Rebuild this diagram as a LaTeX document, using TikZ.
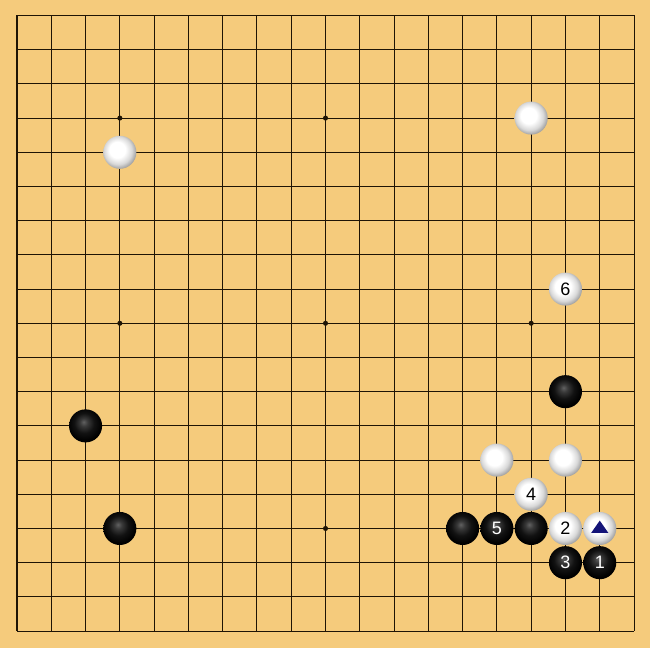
\documentclass[tikz,border=0pt]{standalone}
\usepackage{fontspec}
\setsansfont{Liberation Sans}
\usetikzlibrary{shapes.geometric}
\definecolor{BoardWood}{RGB}{245,203,124}
\definecolor{GridLine}{RGB}{30,20,5}
\definecolor{MarkBlue}{RGB}{20,20,120}
\pgfdeclareradialshading{whiteball}{\pgfpoint{-5bp}{5bp}}{color(0bp)=(white); color(12bp)=(white); color(21bp)=(black!15); color(27bp)=(black!36); color(32bp)=(black!45); color(50bp)=(black!45)}
\pgfdeclareradialshading{blackball}{\pgfpoint{-3bp}{6bp}}{color(0bp)=(black!62); color(6bp)=(black!78); color(15bp)=(black!93); color(25bp)=(black); color(50bp)=(black)}

\begin{document}
\begin{tikzpicture}[
		x=25.71pt, y=-25.65pt,
		gridline/.style={GridLine, line width=0.8pt},
		hoshi/.style={circle, fill=GridLine, inner sep=0pt, minimum size=3.8pt},
		stone/.style={circle, inner sep=0pt, minimum size=24.8pt,
			font=\sffamily\fontsize{13.5}{14}\selectfont},
		blackstone/.style={stone, shading=blackball, text=white},
		whitestone/.style={stone, shading=whiteball, text=black},
		trimark/.style={isosceles triangle, isosceles triangle apex angle=70,
			shape border rotate=90, fill=MarkBlue, inner sep=0pt, minimum width=13pt, minimum height=7pt}
		]
		
		\fill[BoardWood] (0.504,0.547) rectangle (19.466,19.494);
		\useasboundingbox (0.504,0.547) rectangle (19.466,19.494);
		
		% board
		\foreach \i in {1,...,19} {
			\draw[gridline] (\i,1) -- (\i,19);
			\draw[gridline] (1,\i) -- (19,\i);
		}
		\foreach \cx in {4,10,16}
			\foreach \cy in {4,10,16}
				\node[hoshi] (h\cx-\cy) at (\cx,\cy) {};
		
		% stones already on the board
		\node[whitestone] (w1) at (4,5) {};
		\node[whitestone] (w2) at (16,4) {};
		\node[blackstone] (b1) at (17,12) {};
		\node[blackstone] (b2) at (3,13) {};
		\node[whitestone] (w3) at (15,14) {};
		\node[whitestone] (w4) at (17,14) {};
		\node[blackstone] (b3) at (14,16) {};
		\node[blackstone] (b4) at (16,16) {};
		\node[blackstone] (b5) at (4,16) {};
		\node[whitestone] (w5) at (18,16) {};
		\node[trimark] (tri) at (w5.center) {};
		
		% numbered moves
		\node[blackstone] (m1) at (18,17) {1};
		\node[whitestone] (m2) at (17,16) {2};
		\node[blackstone] (m3) at (17,17) {3};
		\node[whitestone] (m4) at (16,15) {4};
		\node[blackstone] (m5) at (15,16) {5};
		\node[whitestone] (m6) at (17,9) {6};
	\end{tikzpicture}
\end{document}
